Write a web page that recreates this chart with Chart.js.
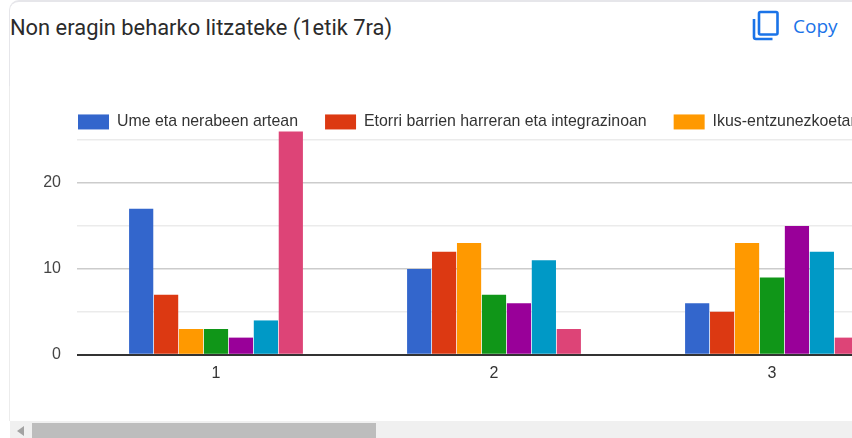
<!DOCTYPE html>
<html>
<head>
<meta charset="utf-8">
<script src="https://cdn.jsdelivr.net/npm/chart.js@4"></script>
<style>
html,body{margin:0;padding:0;background:#fff;overflow:hidden;width:852px;height:438px}
#frame{position:absolute;left:9px;top:0;width:900px;height:90px;box-sizing:border-box;border:1px solid #e6e6ea;border-width:2px 0 0 1px;border-top-left-radius:10px}
#leftline{position:absolute;left:9px;top:86px;width:1px;height:335px;background:#ececec}
#title{position:absolute;left:10px;top:15px;font:21.900px Roboto,sans-serif;color:#2b2b2b;white-space:nowrap}
#copy{position:absolute;left:793px;top:13px;font:19px "Open Sans",Roboto,sans-serif;color:#1a73e8}
#icon{position:absolute;left:750px;top:8px}
#wrap{position:absolute;left:0;top:87px;width:852px;height:334px;overflow:hidden}
#box{position:relative;width:925px;height:334px}
#track{position:absolute;left:10px;top:421px;width:842px;height:17px;background:#f0f0f0}
#thumb{position:absolute;left:32px;top:423px;width:344px;height:15px;background:#bdbdbd}
#arrow{position:absolute;left:17px;top:426px;width:0;height:0;border-top:5px solid transparent;border-bottom:5px solid transparent;border-right:7px solid #a3a3a3}
</style>
</head>
<body>
<div id="frame"></div><div id="leftline"></div>
<div id="title">Non eragin beharko litzateke (1etik 7ra)</div>
<svg id="icon" width="32" height="36" viewBox="0 0 32 36"><rect x="9" y="4" width="18.500" height="22.500" rx="1.500" fill="none" stroke="#1a73e8" stroke-width="2.600"/><path d="M4 11v18a2 2 0 0 0 2 2H22.500" fill="none" stroke="#1a73e8" stroke-width="2.600"/></svg>
<div id="copy">Copy</div>
<div id="wrap"><div id="box"><canvas id="c"></canvas></div></div>
<div id="track"></div><div id="thumb"></div><div id="arrow"></div>
<script>
const categories = ["1","2","3"];
const seriesNames = ["Ume eta nerabeen artean","Etorri barrien harreran eta integrazinoan","Ikus-entzunezkoetan","","","",""];
const seriesColors = ["#3366cc","#dc3912","#ff9900","#109618","#990099","#0099c6","#dd4477"];
const series1 = [17,10,6];
const series2 = [7,12,5];
const series3 = [3,13,13];
const series4 = [3,7,9];
const series5 = [2,6,15];
const series6 = [4,11,12];
const series7 = [26,3,2];
const allSeries = [series1,series2,series3,series4,series5,series6,series7];

const legendFit = {
  id:'legendFit',
  beforeInit(chart){
    const orig = chart.legend.fit;
    chart.legend.fit = function(){ orig.call(this); this.height = 53; };
  },
  afterLayout(chart){ chart.legend.left = 51; }
};
new Chart(document.getElementById('c'),{
  type:'bar',
  data:{
    labels:categories,
    datasets:allSeries.map((d,i)=>({
      label:seriesNames[i],data:d,backgroundColor:seriesColors[i],
      categoryPercentage:.628,barPercentage:.97,clip:false
    }))
  },
  plugins:[legendFit],
  options:{
    responsive:true,maintainAspectRatio:false,animation:false,
    layout:{padding:{left:20,right:14,top:0,bottom:37}},
    plugins:{
      tooltip:{enabled:false},
      legend:{
        position:'top',align:'start',
        labels:{
          boxWidth:31,boxHeight:15,padding:27,color:'#333',
          font:{family:'"Liberation Sans",Arial,sans-serif',size:15.900},
          filter:(item)=>item.text!==''
        }
      }
    },
    scales:{
      x:{
        grid:{display:false},
        border:{display:false},
        ticks:{color:'#333',padding:1,font:{family:'"Liberation Sans",Arial,sans-serif',size:16}}
      },
      y:{
        min:0,max:25,
        afterFit(s){s.width=57;},
        border:{display:false},
        grid:{
          drawTicks:false,
          lineWidth:c=>c.tick.value===0?2:1.500,
          color:c=>c.tick.value===0?'#333':(c.tick.value%10===0?'#cccccc':'#ebebeb'),
          z:0
        },
        ticks:{
          stepSize:5,padding:16,color:'#444',
          font:{family:'"Liberation Sans",Arial,sans-serif',size:16},
          callback:v=>v%10===0?String(v):''
        }
      }
    }
  }
});
</script>
</body>
</html>
